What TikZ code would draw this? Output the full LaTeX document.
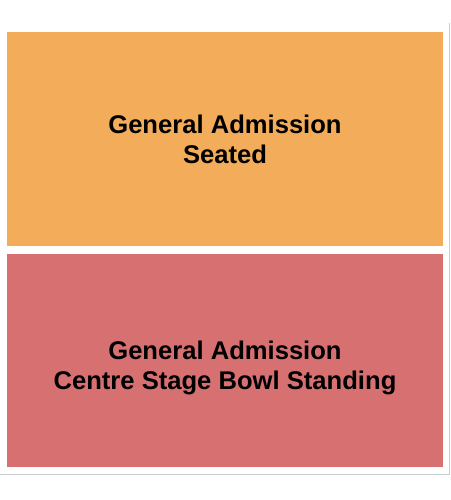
\documentclass[tikz,border=0pt]{standalone}
\usepackage{fontspec}
\setmainfont{Liberation Sans}
\definecolor{seatedfill}{HTML}{F3AD5A}
\definecolor{standfill}{HTML}{D77070}
\definecolor{edgegray}{HTML}{C9CDCD}
\tikzset{
  label text/.style={align=center,font=\bfseries\fontsize{25.6}{30}\selectfont,text=black}
}
\begin{document}
\begin{tikzpicture}[x=1pt,y=-1pt]
  \useasboundingbox (0,0) rectangle (450,500);
  \fill[white] (0,0) rectangle (450,500);
  % outer edge
  \draw[edgegray,line width=1pt] (0,474) -- (449,474) -- (449,23);
  % sections
  \fill[seatedfill] (7,32) rectangle (443,246);
  \fill[standfill] (7,254) rectangle (443,467);
  \node[label text] (seated) at (225,139) {General Admission\\Seated};
  \node[label text] (bowl) at (225,368) {General Admission\\Centre Stage Bowl Standing};
\end{tikzpicture}
\end{document}
